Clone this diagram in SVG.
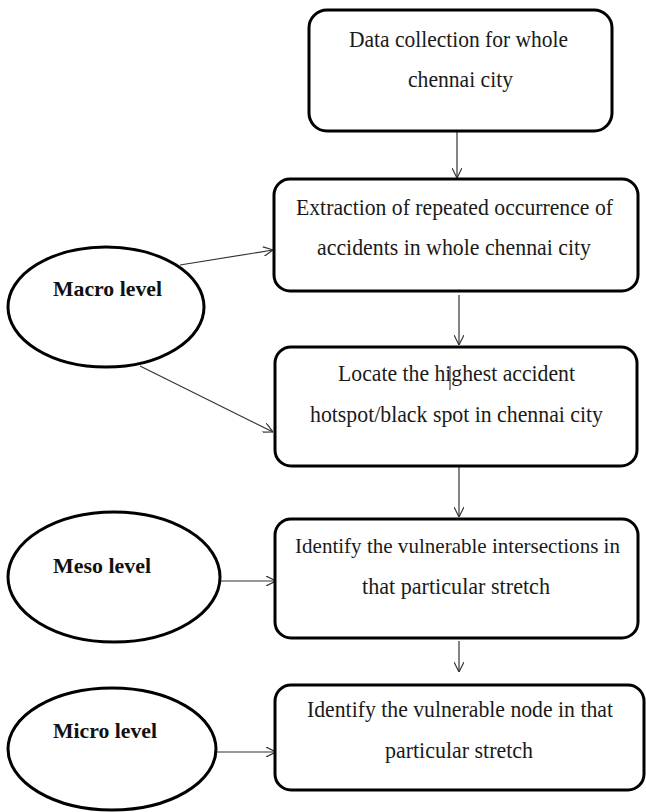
<svg xmlns="http://www.w3.org/2000/svg" width="646" height="812" viewBox="0 0 646 812">
<style>
.box{fill:#fff;stroke:#000;stroke-width:3}
.ell{fill:#fff;stroke:#000;stroke-width:3}
.t{font-family:"Liberation Serif","Times New Roman",serif;font-size:23px;fill:#1a1a1a;text-anchor:middle}
.l{font-family:"Liberation Serif","Times New Roman",serif;font-size:22px;font-weight:bold;fill:#111}
.c{stroke:#333;stroke-width:1.2;fill:none;marker-end:url(#arr)}
</style>
<defs>
<marker id="arr" viewBox="0 0 10 10" refX="10" refY="5" markerWidth="10" markerHeight="10" markerUnits="userSpaceOnUse" orient="auto">
<path d="M0,0 L10,5 L0,10" fill="none" stroke="#333" stroke-width="1.2"/>
</marker>
</defs>
<rect width="646" height="812" fill="#fff"/>
<g id="connectors">
<line class="c" x1="457" y1="132" x2="457" y2="178"/>
<line class="c" x1="459" y1="295" x2="459" y2="345"/>
<line class="c" x1="459" y1="467" x2="459" y2="517"/>
<line class="c" x1="459" y1="641" x2="459" y2="672"/>
<line class="c" x1="180" y1="265" x2="273" y2="250"/>
<line class="c" x1="140" y1="366" x2="273" y2="432"/>
<line class="c" x1="220" y1="581" x2="276" y2="581"/>
<line class="c" x1="217" y1="752" x2="276" y2="752"/>
</g>
<g id="box1">
<rect class="box" x="309" y="10" width="303" height="121" rx="18"/>
<text class="t" x="458.5" y="47" textLength="219" lengthAdjust="spacingAndGlyphs">Data collection for whole</text>
<text class="t" x="460.5" y="87" textLength="105" lengthAdjust="spacingAndGlyphs">chennai city</text>
</g>
<g id="box2">
<rect class="box" x="274" y="179" width="364" height="112" rx="16"/>
<text class="t" x="454.5" y="215" textLength="317" lengthAdjust="spacingAndGlyphs">Extraction of repeated occurrence of</text>
<text class="t" x="454" y="255" textLength="274" lengthAdjust="spacingAndGlyphs">accidents in whole chennai city</text>
</g>
<g id="box3">
<rect class="box" x="275" y="347" width="362" height="119" rx="16"/>
<text class="t" x="456.5" y="381" textLength="237" lengthAdjust="spacingAndGlyphs">Locate the highest accident</text>
<text class="t" x="456.5" y="422" textLength="293" lengthAdjust="spacingAndGlyphs">hotspot/black spot in chennai city</text>
<line x1="450" y1="366" x2="450" y2="390" stroke="#222" stroke-width="1"/>
</g>
<g id="box4">
<rect class="box" x="275" y="519" width="363" height="119" rx="16"/>
<text class="t" x="457.5" y="553" style="font-size:21px" textLength="325" lengthAdjust="spacingAndGlyphs">Identify the vulnerable intersections in</text>
<text class="t" x="456" y="594" textLength="188" lengthAdjust="spacingAndGlyphs">that particular stretch</text>
</g>
<g id="box5">
<rect class="box" x="275" y="685" width="369" height="105" rx="16"/>
<text class="t" x="460" y="717" textLength="306" lengthAdjust="spacingAndGlyphs">Identify the vulnerable node in that</text>
<text class="t" x="459" y="758" textLength="148" lengthAdjust="spacingAndGlyphs">particular stretch</text>
</g>
<g id="macro">
<ellipse class="ell" cx="106" cy="307" rx="98" ry="60"/>
<text class="l" x="53" y="296" textLength="109" lengthAdjust="spacingAndGlyphs">Macro level</text>
</g>
<g id="meso">
<ellipse class="ell" cx="114" cy="577" rx="106" ry="65"/>
<text class="l" x="53" y="573" textLength="98" lengthAdjust="spacingAndGlyphs">Meso level</text>
</g>
<g id="micro">
<ellipse class="ell" cx="112" cy="749" rx="104" ry="61"/>
<text class="l" x="53" y="738" textLength="104" lengthAdjust="spacingAndGlyphs">Micro level</text>
</g>
</svg>
